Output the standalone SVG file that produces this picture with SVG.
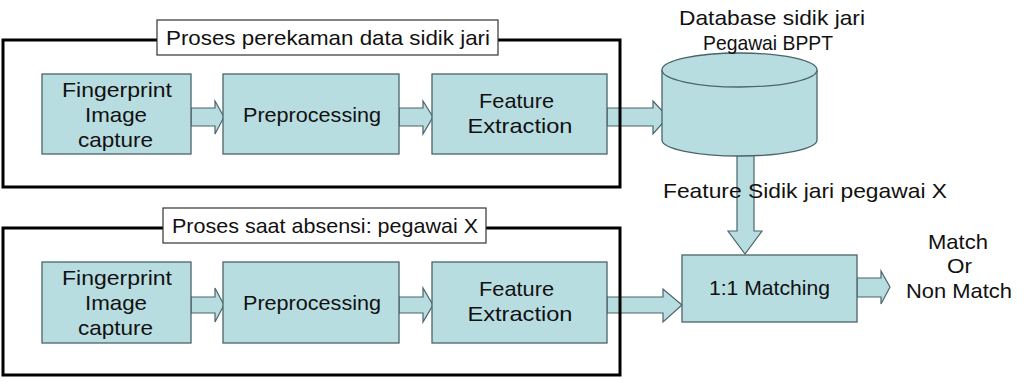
<svg xmlns="http://www.w3.org/2000/svg" width="1024" height="383" viewBox="0 0 1024 383">
<style>
text{font-family:"Liberation Sans",Arial,sans-serif;font-size:21px;fill:#111;text-anchor:middle}
.box{fill:#b8dde1;stroke:#4a6469;stroke-width:1.3}
.arr{fill:#b8dde1;stroke:#4a6469;stroke-width:1.2;stroke-linejoin:miter}
.frame{fill:none;stroke:#000;stroke-width:3}
.title{fill:#fff;stroke:#333;stroke-width:1.2}
</style>
<rect width="1024" height="383" fill="#fff"/>
<g id="connectors">
<path class="arr" d="M191,108 H215 V101 L224,117 L215,134 V126 H191 Z"/>
<path class="arr" d="M399,108 H423 V101 L433,117 L423,134 V126 H399 Z"/>
<path class="arr" d="M607,108 H653 V101 L668,117 L653,134 V126 H607 Z"/>
<path class="arr" d="M191,297 H215 V288 L224,305 L215,322 V313 H191 Z"/>
<path class="arr" d="M399,297 H423 V288 L433,305 L423,322 V313 H399 Z"/>
<path class="arr" d="M607,297 H663 V289 L682,305 L663,322 V313 H607 Z"/>
<path class="arr" d="M857,278 H881 V271 L890,287 L881,304 V297 H857 Z"/>
<path class="arr" d="M737,145 V231 H728 L745,254 L762,231 H754 V145 Z"/>
</g>
<g id="db">
<path class="box" d="M662,70 V140 A77.5,16 0 0 0 817,140 V70"/>
<ellipse class="box" cx="739.5" cy="70" rx="77.5" ry="17"/>
<text x="772" y="25" textLength="186" lengthAdjust="spacingAndGlyphs">Database sidik jari</text>
<text x="768" y="50" textLength="130" lengthAdjust="spacingAndGlyphs">Pegawai BPPT</text>
</g>
<g id="n1">
<rect class="box" x="42" y="74" width="149" height="80"/>
<text x="117" y="97" textLength="110" lengthAdjust="spacingAndGlyphs">Fingerprint</text>
<text x="116" y="122" textLength="62" lengthAdjust="spacingAndGlyphs">Image</text>
<text x="115.5" y="147" textLength="75" lengthAdjust="spacingAndGlyphs">capture</text>
</g>
<g id="n2">
<rect class="box" x="223" y="74" width="176" height="80"/>
<text x="312" y="122" textLength="138" lengthAdjust="spacingAndGlyphs">Preprocessing</text>
</g>
<g id="n3">
<rect class="box" x="432" y="74" width="175" height="80"/>
<text x="516.5" y="108" textLength="75" lengthAdjust="spacingAndGlyphs">Feature</text>
<text x="520" y="133" textLength="105" lengthAdjust="spacingAndGlyphs">Extraction</text>
</g>
<g id="n4">
<rect class="box" x="42" y="262" width="149" height="81"/>
<text x="117" y="285" textLength="110" lengthAdjust="spacingAndGlyphs">Fingerprint</text>
<text x="116" y="310" textLength="62" lengthAdjust="spacingAndGlyphs">Image</text>
<text x="115.5" y="335" textLength="75" lengthAdjust="spacingAndGlyphs">capture</text>
</g>
<g id="n5">
<rect class="box" x="223" y="262" width="176" height="81"/>
<text x="312" y="310" textLength="138" lengthAdjust="spacingAndGlyphs">Preprocessing</text>
</g>
<g id="n6">
<rect class="box" x="432" y="262" width="175" height="81"/>
<text x="516.5" y="296" textLength="75" lengthAdjust="spacingAndGlyphs">Feature</text>
<text x="520" y="321" textLength="105" lengthAdjust="spacingAndGlyphs">Extraction</text>
</g>
<g id="matching">
<rect class="box" x="682" y="255" width="175" height="67"/>
<text x="769.5" y="295" textLength="121" lengthAdjust="spacingAndGlyphs">1:1 Matching</text>
</g>
<g id="feature-label">
<text x="805" y="198" textLength="284" lengthAdjust="spacingAndGlyphs">Feature Sidik jari pegawai X</text>
</g>
<g id="result">
<text x="958" y="249" textLength="60" lengthAdjust="spacingAndGlyphs">Match</text>
<text x="959.5" y="273" textLength="25" lengthAdjust="spacingAndGlyphs">Or</text>
<text x="959" y="298" textLength="106" lengthAdjust="spacingAndGlyphs">Non Match</text>
</g>
<g id="frame1">
<rect class="frame" x="3" y="40" width="617" height="147"/>
<rect class="title" x="157" y="20" width="341" height="35"/>
<text x="328" y="45" textLength="324" lengthAdjust="spacingAndGlyphs">Proses perekaman data sidik jari</text>
</g>
<g id="frame2">
<rect class="frame" x="3" y="228" width="617" height="147"/>
<rect class="title" x="163" y="208" width="323" height="35"/>
<text x="325" y="233" textLength="306" lengthAdjust="spacingAndGlyphs">Proses saat absensi: pegawai X</text>
</g>
</svg>
